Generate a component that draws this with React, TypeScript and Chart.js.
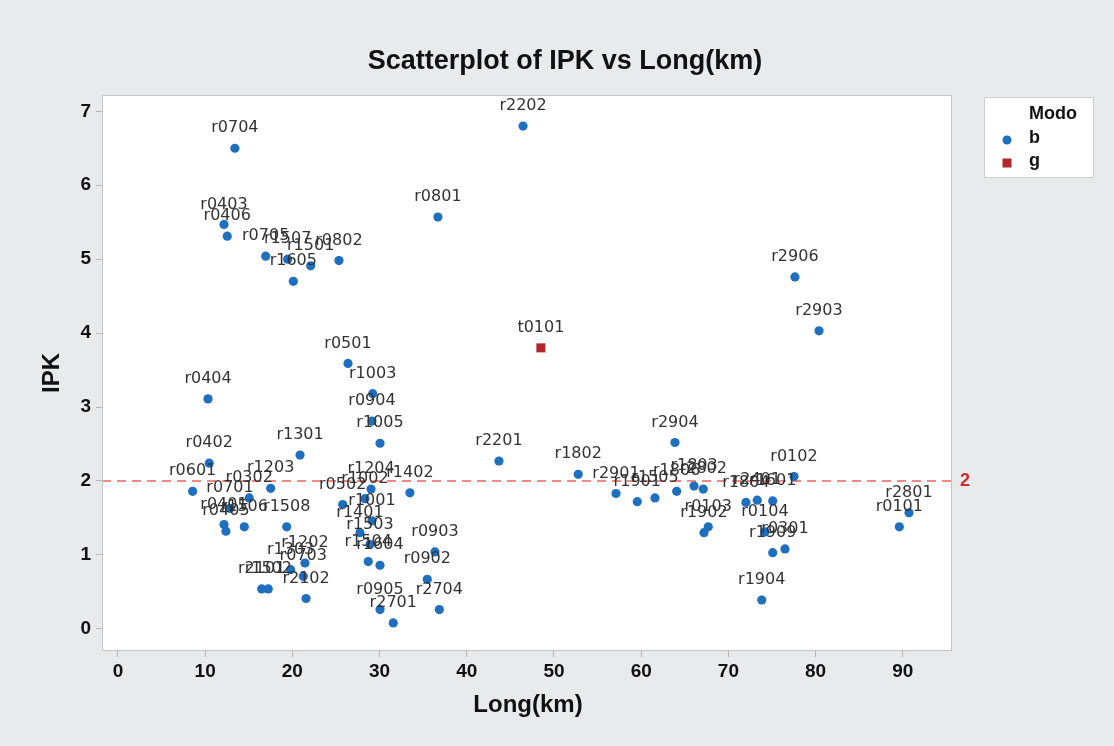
import { useEffect, useRef } from 'react';
import { Chart, registerables } from 'chart.js';
Chart.register(...registerables);

const W = 1114;
const H = 746;

const bNames = [
  'r0704', 'r2202', 'r0403', 'r0406', 'r0801', 'r0705', 'r1507', 'r1501', 'r0802', 'r1605',
  'r2906', 'r2903', 'r0501', 'r0404', 'r1003', 'r0904', 'r1005', 'r1301', 'r0402', 'r2201',
  'r2904', 'r1802', 'r0102', 'r0601', 'r1203', 'r0302', 'r0701', 'r0401', 'r0405', 'r1506',
  'r1508', 'r1204', 'r0502', 'r1002', 'r1402', 'r1401', 'r1001', 'r1503', 'r1504', 'r1604',
  'r0903', 'r0902', 'r0905', 'r2704', 'r2701', 'r1202', 'r1303', 'r0703', 'r2101', 'r1502',
  'r2102', 'r2901', 'r1901', 'r1505', 'r1806', 'r1803', 'r2802', 'r0103', 'r1902', 'r1804',
  'r2401', 'r1601', 'r0104', 'r1909', 'r0301', 'r1904', 'r2801', 'r0101',
];
const bLong = [
  13.41, 46.45, 12.16, 12.53, 36.69, 16.94, 19.46, 22.1, 25.34, 20.11,
  77.63, 80.39, 26.38, 10.33, 29.21, 29.13, 30.05, 20.88, 10.47, 43.69,
  63.87, 52.78, 77.52, 8.56, 17.51, 15.05, 12.85, 12.16, 12.38, 14.49,
  19.35, 29.02, 25.77, 28.33, 33.48, 27.75, 29.13, 28.9, 28.7, 30.05,
  36.35, 35.47, 30.05, 36.85, 31.57, 21.44, 19.8, 21.25, 16.48, 17.24,
  21.57, 57.11, 59.55, 61.58, 64.07, 66.06, 67.12, 67.69, 67.2, 72.01,
  73.31, 75.08, 74.19, 75.08, 76.49, 73.82, 90.71, 89.6,
];
const bIPK = [
  6.5, 6.8, 5.47, 5.31, 5.57, 5.04, 5.0, 4.91, 4.98, 4.7,
  4.76, 4.03, 3.59, 3.11, 3.18, 2.81, 2.51, 2.35, 2.24, 2.27,
  2.52, 2.09, 2.06, 1.86, 1.9, 1.77, 1.63, 1.41, 1.32, 1.38,
  1.38, 1.89, 1.68, 1.76, 1.84, 1.3, 1.46, 1.14, 0.91, 0.86,
  1.04, 0.67, 0.26, 0.26, 0.08, 0.89, 0.8, 0.71, 0.54, 0.54,
  0.41, 1.83, 1.72, 1.77, 1.86, 1.93, 1.89, 1.38, 1.3, 1.71,
  1.74, 1.73, 1.31, 1.03, 1.08, 0.39, 1.57, 1.38,
];
const gNames = ['t0101'];
const gLong = [48.5];
const gIPK = [3.8];

const xTickValues = [0, 10, 20, 30, 40, 50, 60, 70, 80, 90];
const yTickValues = [0, 1, 2, 3, 4, 5, 6, 7];
const refValue = 2;
const legendTitle = 'Modo';
const legendItems = ['b', 'g'];

const BLUE = '#1f6fc0';
const RED = '#b3262a';

export default function App() {
  const ref = useRef<HTMLCanvasElement>(null);
  useEffect(() => {
    document.body.style.margin = '0';
    const canvas = ref.current;
    if (!canvas) return;
    const names = [bNames, gNames];

    const deco = {
      id: 'deco',
      beforeDraw(c: any) {
        const { ctx, chartArea: a } = c;
        ctx.save();
        ctx.fillStyle = '#e9eaec';
        ctx.fillRect(0, 0, W, H);
        ctx.fillStyle = '#ffffff';
        ctx.fillRect(a.left, a.top, a.right - a.left, a.bottom - a.top);
        ctx.restore();
      },
      beforeDatasetsDraw(c: any) {
        const { ctx, chartArea: a } = c;
        const y = c.scales.y.getPixelForValue(refValue);
        ctx.save();
        ctx.strokeStyle = '#f08a85';
        ctx.lineWidth = 2;
        ctx.setLineDash([9, 6]);
        ctx.beginPath();
        ctx.moveTo(a.left, y);
        ctx.lineTo(a.right, y);
        ctx.stroke();
        ctx.restore();
      },
      afterDatasetsDraw(c: any) {
        const { ctx, chartArea: a } = c;
        ctx.save();
        ctx.font = '16px "DejaVu Sans"';
        ctx.fillStyle = '#333333';
        ctx.textAlign = 'center';
        ctx.textBaseline = 'middle';
        for (let d = 0; d < 2; d++) {
          const meta = c.getDatasetMeta(d);
          meta.data.forEach((el: any, i: number) => {
            ctx.fillText(names[d][i], el.x, el.y - 20);
          });
        }
        ctx.strokeStyle = '#c4c4c4';
        ctx.lineWidth = 1;
        ctx.setLineDash([]);
        ctx.strokeRect(a.left + 0.5, a.top + 0.5, a.right - a.left - 1, a.bottom - a.top - 1);
        const y = c.scales.y.getPixelForValue(refValue);
        ctx.font = 'bold 18px "Liberation Sans"';
        ctx.fillStyle = '#c9302c';
        ctx.textAlign = 'left';
        ctx.fillText(String(refValue), a.right + 8, y);
        ctx.restore();
      },
      afterDraw(c: any) {
        const { ctx, chartArea: a } = c;
        ctx.save();
        ctx.fillStyle = '#111111';
        ctx.textAlign = 'center';
        ctx.textBaseline = 'middle';
        ctx.font = 'bold 27px "Liberation Sans"';
        ctx.fillText('Scatterplot of IPK vs Long(km)', 565, 62);
        ctx.font = 'bold 24px "Liberation Sans"';
        ctx.fillText('Long(km)', 528, 705);
        ctx.save();
        ctx.translate(52, (a.top + a.bottom) / 2);
        ctx.rotate(-Math.PI / 2);
        ctx.fillText('IPK', 0, 0);
        ctx.restore();
        // legend
        ctx.fillStyle = '#ffffff';
        ctx.fillRect(984, 97, 110, 81);
        ctx.strokeStyle = '#cfcfcf';
        ctx.lineWidth = 1;
        ctx.strokeRect(984.5, 97.5, 109, 80);
        ctx.fillStyle = '#111111';
        ctx.textAlign = 'left';
        ctx.font = 'bold 18px "Liberation Sans"';
        ctx.fillText(legendTitle, 1029, 114);
        ctx.fillText(legendItems[0], 1029, 138);
        ctx.fillText(legendItems[1], 1029, 161);
        ctx.fillStyle = BLUE;
        ctx.beginPath();
        ctx.arc(1007, 140, 4.5, 0, Math.PI * 2);
        ctx.fill();
        ctx.fillStyle = RED;
        ctx.fillRect(1002.5, 158.5, 9, 9);
        ctx.restore();
      },
    };

    const chart = new Chart(canvas, {
      type: 'scatter',
      data: {
        datasets: [
          {
            label: legendItems[0],
            data: bLong.map((x, i) => ({ x, y: bIPK[i] })),
            backgroundColor: BLUE,
            borderWidth: 0,
            pointRadius: 4.6,
            pointStyle: 'circle',
          },
          {
            label: legendItems[1],
            data: gLong.map((x, i) => ({ x, y: gIPK[i] })),
            backgroundColor: RED,
            borderWidth: 0,
            pointRadius: 6.4,
            pointStyle: 'rect',
          },
        ],
      },
      options: {
        animation: false,
        responsive: false,
        events: [],
        layout: { padding: { left: 0, top: 95, right: 162, bottom: 0 } },
        plugins: {
          legend: { display: false },
          title: { display: false },
          tooltip: { enabled: false },
        },
        scales: {
          x: {
            type: 'linear',
            min: -1.83,
            max: 95.64,
            afterBuildTicks: (s: any) => {
              s.ticks = xTickValues.map((v) => ({ value: v }));
            },
            afterFit: (s: any) => {
              s.height = 95;
            },
            grid: { drawOnChartArea: false, color: '#b5b5b5', tickLength: 6 },
            border: { display: false },
            ticks: {
              padding: 3,
              color: '#111111',
              font: { family: '"Liberation Sans Narrow", "Liberation Sans"', size: 19, weight: 'bold' },
            },
          },
          y: {
            type: 'linear',
            min: -0.3,
            max: 7.22,
            afterBuildTicks: (s: any) => {
              s.ticks = yTickValues.map((v) => ({ value: v }));
            },
            afterFit: (s: any) => {
              s.width = 102;
            },
            grid: { drawOnChartArea: false, color: '#b5b5b5', tickLength: 6 },
            border: { display: false },
            ticks: {
              padding: 5,
              color: '#111111',
              font: { family: '"Liberation Sans"', size: 19, weight: 'bold' },
            },
          },
        },
      },
      plugins: [deco],
    } as any);
    return () => chart.destroy();
  }, []);
  return (
    <div style={{ width: W, height: H, position: 'relative' }}>
      <canvas ref={ref} width={W} height={H} style={{ width: W, height: H, display: 'block' }} />
    </div>
  );
}
